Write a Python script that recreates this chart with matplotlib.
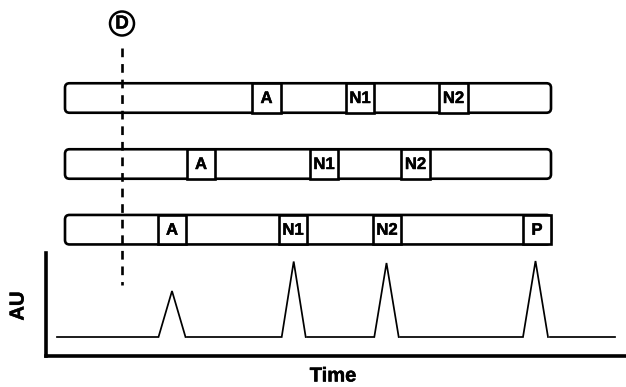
import matplotlib
matplotlib.use("Agg")
import matplotlib.pyplot as plt
from matplotlib.patches import FancyBboxPatch, Rectangle, Circle
import matplotlib.patheffects as pe

plt.rcParams['font.family'] = ['Liberation Sans', 'DejaVu Sans']

# ---- data (time axis in arbitrary units, AU above baseline) ----
peak_names = ["A", "N1", "N2", "P"]
peak_times = [172, 293.7, 386.5, 535.5]
peak_heights = [46, 75.5, 74, 76]
peak_halfwidths = [13.5, 12, 12.2, 12.5]

# band positions (centre times) in the three lanes, top to bottom
lane_labels = [["A", "N1", "N2"], ["A", "N1", "N2"], ["A", "N1", "N2", "P"]]
lane_times = [[266.5, 360.0, 453.5], [201.0, 324.0, 415.5], [172.0, 293.0, 387.0, 537.0]]
lane_centres = [98, 164, 229.7]

trace_start, trace_end = 57, 615
dead_time = 121.5

W, H = 626, 387
fig = plt.figure(figsize=(W / 100, H / 100), dpi=100)

# overlay axes in figure pixel units for lanes
top = fig.add_axes([0, 0, 1, 1])
top.set_xlim(0, W)
top.set_ylim(H, 0)
top.axis('off')

# chromatogram axes
ax_left, ax_right, ax_bot, ax_top = 46, 626, 356, 253
base_y = 337
ax = fig.add_axes([ax_left / W, (H - ax_bot) / H, (ax_right - ax_left) / W, (ax_bot - ax_top) / H])
ax.set_xlim(ax_left, ax_right)
ax.set_ylim(-(ax_bot - base_y), base_y - ax_top)
ax.patch.set_alpha(0)
for s in ['top', 'right']:
    ax.spines[s].set_visible(False)
for s in ['left', 'bottom']:
    ax.spines[s].set_linewidth(2.6)
    ax.spines[s].set_capstyle('projecting')
ax.set_xticks([])
ax.set_yticks([])

# trace: baseline segments with triangular peaks
x0 = trace_start
for t, h, hw in zip(peak_times, peak_heights, peak_halfwidths):
    xs = [x0, t - hw, t, t + hw]
    ys = [0, 0, h, 0]
    ax.plot(xs, ys, color='black', lw=1.25, solid_joinstyle='miter')
    x0 = t + hw + 1.5
ax.plot([x0, trace_end], [0, 0], color='black', lw=1.25)

bold_fx = [pe.withStroke(linewidth=0.35, foreground='black')]
fig.text(333 / W, 1 - 376 / H, "Time", ha='center', va='center', fontsize=14.5,
         fontweight='bold', path_effects=bold_fx)
fig.text(18 / W, 1 - 306 / H, "AU", ha='center', va='center', rotation=90, fontsize=14.5,
         fontweight='bold', path_effects=bold_fx)

# lanes
lane_left, lane_right, lane_h = 65, 551, 29.5
box_w = 28.5
for labels, times, yc in zip(lane_labels, lane_times, lane_centres):
    bar = FancyBboxPatch((lane_left, yc - lane_h / 2), lane_right - lane_left, lane_h,
                         boxstyle="round,pad=0,rounding_size=4.5",
                         facecolor='white', edgecolor='black', lw=1.9, zorder=2)
    top.add_patch(bar)
    for lab, t in zip(labels, times):
        top.add_patch(Rectangle((t - box_w / 2, yc - lane_h / 2), box_w, lane_h,
                                facecolor='white', edgecolor='black', lw=1.9, zorder=3))
        top.text(t, yc + 0.5, lab, ha='center', va='center', fontsize=12,
                 fontweight='bold', zorder=4, path_effects=bold_fx)

# dead-time marker
top.plot([dead_time, dead_time], [48, 285], color='black', lw=1.9,
         linestyle=(0, (3.3, 2.6)), zorder=5)
top.add_patch(Circle((dead_time + 0.5, 23.5), 12, facecolor='white', edgecolor='black', lw=1.8, zorder=5))
top.text(dead_time + 0.5, 24, "D", ha='center', va='center', fontsize=13.5, fontweight='bold',
         zorder=6, path_effects=bold_fx)

fig.savefig("out.png", dpi=100)
